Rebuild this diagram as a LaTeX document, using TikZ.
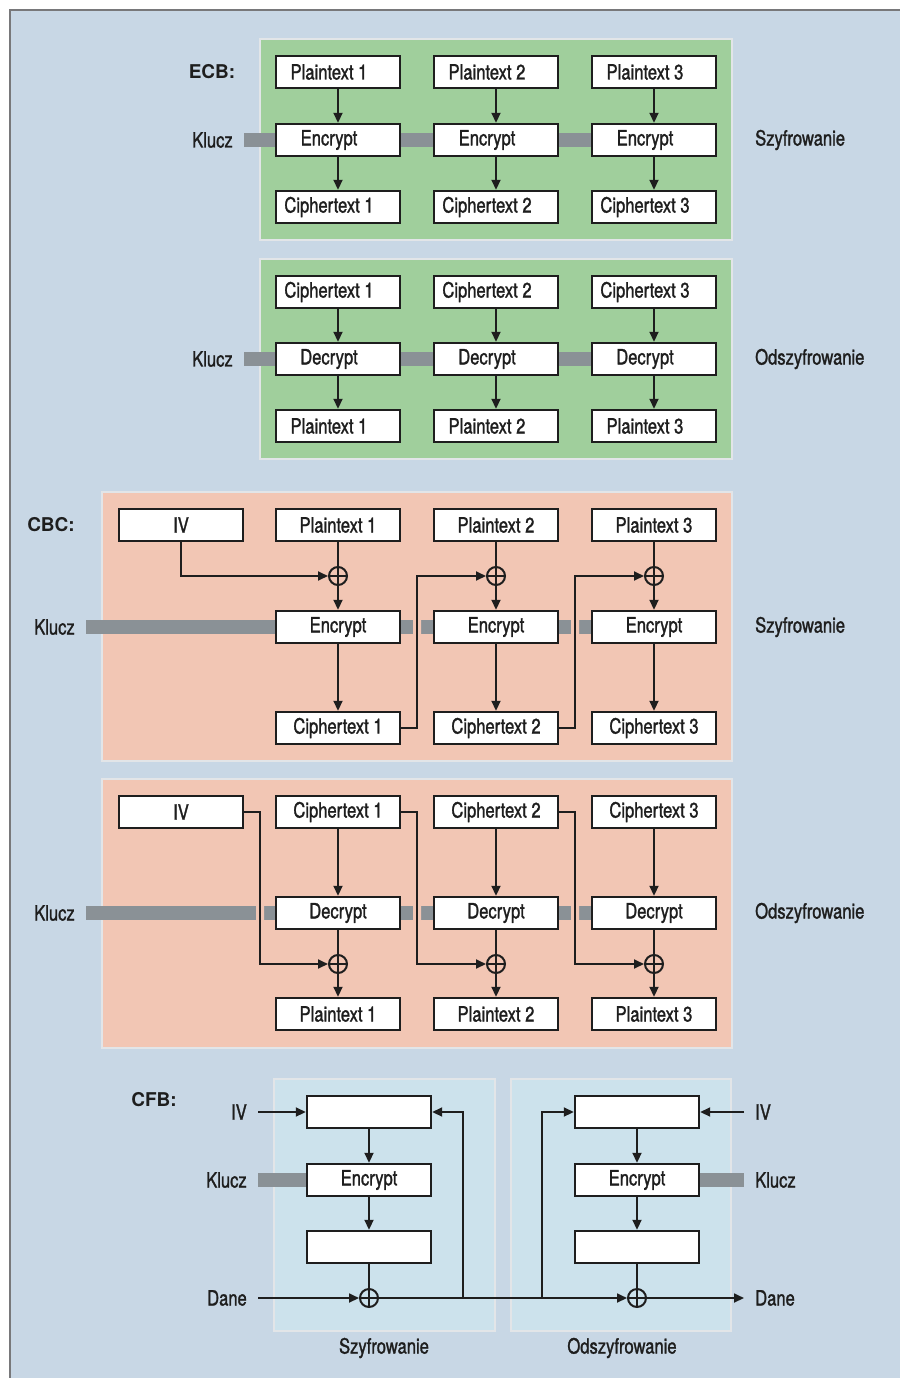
\documentclass[tikz,border=0pt]{standalone}
\usepackage{fontspec}
\setmainfont{TeX Gyre Heros}[FakeStretch=0.79, FakeBold=1.3]
\newfontfamily\headfont{TeX Gyre Heros}
\usepackage{tikz}
\usetikzlibrary{arrows.meta}
\definecolor{frameBlue}{RGB}{200,215,229}
\definecolor{frameLine}{RGB}{120,120,122}
\definecolor{ecbGreen}{RGB}{160,207,156}
\definecolor{cbcSalmon}{RGB}{242,198,180}
\definecolor{cfbBlue}{RGB}{204,226,236}
\definecolor{keyGray}{RGB}{138,145,150}
\definecolor{panelEdge}{RGB}{226,229,232}
\definecolor{inkBlack}{RGB}{30,30,30}

\begin{document}
\begin{tikzpicture}[x=1pt, y=-1pt,
	every node/.style={font=\fontsize{21}{24}\selectfont, text=inkBlack},
	box/.style={draw=inkBlack, fill=white, line width=2.4pt, minimum width=124pt, minimum height=32pt, inner sep=0pt},
	ecbbox/.style={box, execute at end node={\hspace*{18pt}}},
	xor/.style={circle, draw=inkBlack, line width=2pt, minimum size=18pt, inner sep=0pt,
		path picture={\draw[inkBlack, line width=2pt] (path picture bounding box.north) -- (path picture bounding box.south) (path picture bounding box.west) -- (path picture bounding box.east);}},
	lab/.style={inner xsep=11pt, inner ysep=0pt},
	head/.style={font=\headfont\bfseries\fontsize{19}{22}\selectfont},
	panel/.style={draw=panelEdge, line width=2pt},
	keybar/.style={keyGray, line width=14pt},
	arr/.style={draw=inkBlack, line width=1.8pt, -{Triangle[length=10pt, width=9pt]}},
	wire/.style={draw=inkBlack, line width=1.8pt}]
	\useasboundingbox (0,0) rectangle (900,1378);
	\fill[white] (0,0) rectangle (900,1378);
	\fill[frameBlue] (10,10) rectangle (900,1378);
	\draw[frameLine, line width=1.5pt] (10,1378) -- (10,10) -- (900,10);
	\filldraw[panel, fill=ecbGreen] (260,39) rectangle (732,240);
	\filldraw[panel, fill=ecbGreen] (260,259) rectangle (732,459);
	\filldraw[panel, fill=cbcSalmon] (102,492) rectangle (732,761);
	\filldraw[panel, fill=cbcSalmon] (102,779) rectangle (732,1048);
	\filldraw[panel, fill=cfbBlue] (274,1079) rectangle (495,1331);
	\filldraw[panel, fill=cfbBlue] (511,1079) rectangle (731,1331);

	% ECB
	\node[head] (ecb) at (212,72) {ECB:};
	\foreach \i/\x in {1/338, 2/496, 3/654} {
		\node[ecbbox] (ep\i) at (\x,72) {Plaintext \i};
		\node[ecbbox] (ee\i) at (\x,140) {Encrypt};
		\node[ecbbox] (ec\i) at (\x,207) {Ciphertext \i};
		\draw[arr] (ep\i) -- (ee\i);
		\draw[arr] (ee\i) -- (ec\i);
		\node[ecbbox] (dc\i) at (\x,292) {Ciphertext \i};
		\node[ecbbox] (dd\i) at (\x,359) {Decrypt};
		\node[ecbbox] (dp\i) at (\x,426) {Plaintext \i};
		\draw[arr] (dc\i) -- (dd\i);
		\draw[arr] (dd\i) -- (dp\i);
	}
	\coordinate (ek) at (244,140);
	\coordinate (dk) at (244,359);
	\node[lab, anchor=east] (ekl) at (ek) {Klucz};
	\node[lab, anchor=east] (dkl) at (dk) {Klucz};
	\draw[keybar] (ek) -- (ee1.west) (ee1.east) -- (ee2.west) (ee2.east) -- (ee3.west);
	\draw[keybar] (dk) -- (dd1.west) (dd1.east) -- (dd2.west) (dd2.east) -- (dd3.west);
	\node[lab, anchor=west] (eszy) at (744,140) {Szyfrowanie};
	\node[lab, anchor=west] (dodsz) at (744,359) {Odszyfrowanie};

	% CBC
	\node[head] (cbc) at (51,525) {CBC:};
	\node[box] (civ) at (181,525) {IV};
	\node[box] (div) at (181,812) {IV};
	\foreach \i/\x in {1/338, 2/496, 3/654} {
		\node[box] (cp\i) at (\x,525) {Plaintext \i};
		\node[xor] (cx\i) at (\x,576) {};
		\node[box] (ce\i) at (\x,627) {Encrypt};
		\node[box] (cc\i) at (\x,728) {Ciphertext \i};
		\node[box] (bc\i) at (\x,812) {Ciphertext \i};
		\node[box] (bd\i) at (\x,913) {Decrypt};
		\node[xor] (bx\i) at (\x,964) {};
		\node[box] (bp\i) at (\x,1014) {Plaintext \i};
	}
	\coordinate (ck) at (86,627);
	\coordinate (bk) at (86,913);
	\node[lab, anchor=east] (ckl) at (ck) {Klucz};
	\node[lab, anchor=east] (bkl) at (bk) {Klucz};
	\draw[keybar] (ck) -- (ce1.west) (ce1.east) -- (ce2.west) (ce2.east) -- (ce3.west);
	\draw[keybar] (bk) -- (bd1.west) (bd1.east) -- (bd2.west) (bd2.east) -- (bd3.west);
	\fill[cbcSalmon] (413,619) rectangle (421,635) (571,619) rectangle (579,635);
	\fill[cbcSalmon] (256,905) rectangle (264,921) (413,905) rectangle (421,921) (571,905) rectangle (579,921);
	\foreach \i in {1,2,3} {
		\draw[wire] (cp\i) -- (cx\i);
		\draw[arr] (cx\i) -- (ce\i);
		\draw[arr] (ce\i) -- (cc\i);
		\draw[arr] (bc\i) -- (bd\i);
		\draw[wire] (bd\i) -- (bx\i);
		\draw[arr] (bx\i) -- (bp\i);
	}
	\draw[arr] (civ) |- (cx1);
	\draw[arr] (cc1.east) -- ++(16,0) |- (cx2);
	\draw[arr] (cc2.east) -- ++(16,0) |- (cx3);
	\draw[arr] (div.east) -- ++(16,0) |- (bx1);
	\draw[arr] (bc1.east) -- ++(16,0) |- (bx2);
	\draw[arr] (bc2.east) -- ++(16,0) |- (bx3);
	\node[lab, anchor=west] (cszy) at (744,627) {Szyfrowanie};
	\node[lab, anchor=west] (bodsz) at (744,913) {Odszyfrowanie};

	% CFB
	\node[head] (cfb) at (154,1100) {CFB:};
	\foreach \i/\x in {1/369, 2/637} {
		\node[box] (fr\i) at (\x,1112) {};
		\node[box] (fe\i) at (\x,1180) {Encrypt};
		\node[box] (fo\i) at (\x,1247) {};
		\node[xor] (fx\i) at (\x,1298) {};
		\draw[arr] (fr\i) -- (fe\i);
		\draw[arr] (fe\i) -- (fo\i);
		\draw[wire] (fo\i) -- (fx\i);
	}
	\node[lab, anchor=east] (fiv1) at (258,1112) {IV};
	\node[lab, anchor=east] (fk1) at (258,1180) {Klucz};
	\node[lab, anchor=east] (fd1) at (258,1298) {Dane};
	\node[lab, anchor=west] (fiv2) at (744,1112) {IV};
	\node[lab, anchor=west] (fk2) at (744,1180) {Klucz};
	\node[lab, anchor=west] (fd2) at (744,1298) {Dane};
	\draw[keybar] (fk1.east) -- (fe1.west);
	\draw[keybar] (fe2.east) -- (fk2.west);
	\coordinate (fb1) at (463,1298);
	\coordinate (fb2) at (542,1298);
	\draw[arr] (fiv1) -- (fr1);
	\draw[arr] (fd1) -- (fx1);
	\draw[arr] (fx1) -- (fx2);
	\draw[arr] (fb1) |- (fr1);
	\draw[arr] (fb2) |- (fr2);
	\draw[arr] (fiv2) -- (fr2);
	\draw[arr] (fx2) -- (fd2);
	\node (fszy) at (384,1348) {Szyfrowanie};
	\node (fodsz) at (622,1348) {Odszyfrowanie};

\end{tikzpicture}
\end{document}
